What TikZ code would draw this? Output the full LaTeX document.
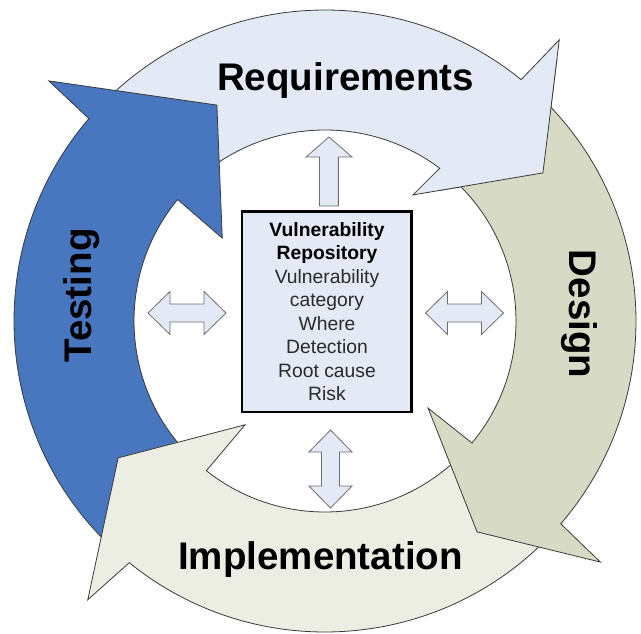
\documentclass[tikz,border=0pt]{standalone}
\usepackage{fontspec}
\setmainfont{Liberation Sans}
\definecolor{reqfill}{HTML}{E3E9F5}
\definecolor{testfill}{HTML}{4876BF}
\definecolor{desfill}{HTML}{D7DBC5}
\definecolor{impfill}{HTML}{ECEDE3}
\definecolor{boxfill}{HTML}{E3E9F5}
\definecolor{ringline}{HTML}{3A3A3A}
\definecolor{blockline}{HTML}{6E6E6E}
\definecolor{boxtext}{HTML}{2A2A2A}

% One segment of the cycle: outer arc from the tail to the head,
% arrow head (outer barb, tip, inner barb), inner arc back to the tail.
% #2 tail angle, #3 outer notch angle, #4 outer barb angle,
% #5/#6 tip angle/radius, #7/#8 inner barb angle/radius, #9 inner notch angle
\newcommand\ringarrow[9][]{%
  \draw[ringedge,#1] (#2:311pt) arc[start angle=#2, end angle=#3, radius=311pt]
    -- (#4:366pt) -- (#5:#6pt) -- (#7:#8pt) -- (#9:191pt)
    arc[start angle=#9, end angle=#2, radius=191pt] -- cycle;}

\begin{document}
\begin{tikzpicture}[x=1pt,y=1pt,
  ringedge/.style={draw=ringline, line width=0.8pt, line join=miter},
  reqarrow/.style={fill=reqfill},
  testarrow/.style={fill=testfill},
  desarrow/.style={fill=desfill},
  imparrow/.style={fill=impfill},
  biglabel/.style={font=\fontsize{38.5}{40}\selectfont\bfseries, inner sep=0pt},
  repobox/.style={draw=black, line width=2.5pt, fill=boxfill, text=boxtext,
    minimum width=169.5pt, minimum height=200.5pt, align=center,
    font=\fontsize{19.3}{23.5}\selectfont, inner sep=0pt},
  blockarrow/.style={draw=blockline, line width=0.8pt, fill=reqfill, line join=miter},
  dblarrow/.pic={\draw[blockarrow] (-39,0) -- (-17,21.5) -- (-17,9) -- (17,9)
    -- (17,21.5) -- (39,0) -- (17,-21.5) -- (17,-9) -- (-17,-9) -- (-17,-21.5) -- cycle;},
  uparrow/.pic={\draw[blockarrow] (-9.4,0) -- (-9.4,49) -- (-23,49) -- (0,69)
    -- (23,49) -- (9.4,49) -- (9.4,0) -- cycle;}
]
\useasboundingbox (-325,-312) rectangle (316,321);
\fill[white] (-325,-312) rectangle (316,321);

% the four phases, each head lying over the tail of the next one
\ringarrow[reqarrow]{134}{50.9}{50.2}{34.2}{263.5}{55.1}{153.7}{53.1}
\ringarrow[testarrow]{227}{139.4}{139}{116.6}{241.5}{141.1}{132}{140.5}
\ringarrow[imparrow]{-44}{-129}{-130.4}{-146.5}{248}{-127.6}{131}{-128.4}
\ringarrow[desarrow]{47}{-40.7}{-41.2}{-54.2}{260}{-40.2}{135}{-39.7}
% Requirements head again, over the start of Design
\begin{scope}
  \clip (0,0) -- (48.5:450pt) arc[start angle=48.5, end angle=15, radius=450pt] -- cycle;
  \ringarrow[reqarrow]{134}{50.9}{50.2}{34.2}{263.5}{55.1}{153.7}{53.1}
\end{scope}

% phase labels
\node[biglabel, anchor=base] (reqlabel) at (20.5,231) {Requirements};
\node[biglabel, anchor=base] (implabel) at (-4.5,-248) {Implementation};
\node[biglabel, anchor=base, rotate=90] (testlabel) at (-233,25.5) {Testing};
\node[biglabel, anchor=base, rotate=-90] (deslabel) at (245,7) {Design};

% central repository
\node[repobox] (repo) at (2,9.5) {{\bfseries\color{black}Vulnerability}\\{\bfseries\color{black}Repository}\\
  Vulnerability\\category\\Where\\Detection\\Root cause\\Risk};

% links between the repository and the phases
\pic (toleft) at (-138,8) {dblarrow};
\pic (toright) at (139.5,8) {dblarrow};
\pic (totop) at (4,115) {uparrow};
\pic[rotate=90] (tobottom) at (5.5,-148) {dblarrow};
\end{tikzpicture}
\end{document}
